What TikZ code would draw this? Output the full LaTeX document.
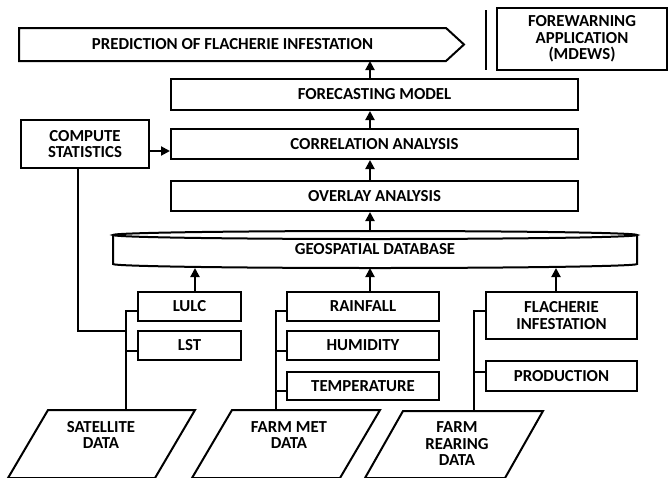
\documentclass[tikz,border=0pt]{standalone}
\usepackage{fontspec}
\setmainfont{Carlito}
\usetikzlibrary{arrows.meta,calc}
\begin{document}
\begin{tikzpicture}[x=1pt,y=-1pt,line width=2pt,
  lbl/.style={inner sep=0pt,align=center,font=\bfseries\fontsize{16.8}{16.5}\selectfont},
  box/.style={lbl,draw,rectangle},
  arr/.style={-{Triangle[width=9pt,length=9pt]},line width=2pt},
  conn/.style={line width=2pt}]
\useasboundingbox (0,0) rectangle (668,477);
% top prediction arrow box
\node[lbl,minimum width=425pt,minimum height=31pt] (pred) at (232.5,44.5) {PREDICTION OF FLACHERIE INFESTATION};
\draw (pred.north west) -- (pred.north east) -- ($(pred.east)+(18,0)$) -- (pred.south east) -- (pred.south west) -- cycle;
\draw[line width=2.2pt] (486,10) -- (486,70);
\node[box,minimum width=170pt,minimum height=62pt] (fw) at (582,39) {FOREWARNING\\APPLICATION\\(MDEWS)};
% main column
\node[box,minimum width=407pt,minimum height=31pt] (fore) at (374.5,94.5) {FORECASTING MODEL};
\node[box,minimum width=407pt,minimum height=30pt] (corr) at (374.5,144) {CORRELATION ANALYSIS};
\node[box,minimum width=407pt,minimum height=30pt] (over) at (374.5,196) {OVERLAY ANALYSIS};
% geospatial database cylinder
\node[lbl,minimum width=524pt,minimum height=38pt] (geo) at (375,249) {\raisebox{-3pt}{GEOSPATIAL DATABASE}};
\draw (375,235) ellipse [x radius=262pt,y radius=4pt];
\draw (113,235) -- (113,264) arc[start angle=180,end angle=360,x radius=262pt,y radius=4pt] -- (637,235);
\node[box,minimum width=128pt,minimum height=48pt] (cs) at (85,144) {COMPUTE\\STATISTICS};
% lower boxes
\node[box,minimum width=103pt,minimum height=29pt] (lulc) at (189.5,306.5) {LULC};
\node[box,minimum width=103pt,minimum height=29pt] (lst) at (189.5,345.5) {LST};
\node[box,minimum width=152pt,minimum height=29pt] (rain) at (363,306.5) {RAINFALL};
\node[box,minimum width=152pt,minimum height=29pt] (hum) at (363,345.5) {HUMIDITY};
\node[box,minimum width=152pt,minimum height=28pt] (temp) at (363,386) {TEMPERATURE};
\node[box,minimum width=151pt,minimum height=47pt] (flach) at (561.5,315.5) {FLACHERIE\\INFESTATION};
\node[box,minimum width=151pt,minimum height=30pt] (prod) at (561.5,376) {PRODUCTION};
% data parallelograms
\draw (48,410) -- (195,410) -- (155,478) -- (8,478) -- cycle;
\node[lbl] (sat) at (101,435) {SATELLITE\\DATA};
\draw (232,410) -- (380,410) -- (340,478) -- (192,478) -- cycle;
\node[lbl] (met) at (289,435) {FARM MET\\DATA};
\draw (403,411) -- (543,411) -- (505,478) -- (365,478) -- cycle;
\node[lbl] (rear) at (457,444) {FARM\\REARING\\DATA};
\coordinate (satTop) at (126,410);
\coordinate (metTop) at (276,410);
\coordinate (rearTop) at (474,411);
% arrows up the column
\draw[arr] (fore.north -| 370,0) -- (pred.south -| 370,0);
\draw[arr] (corr.north -| 370,0) -- (fore.south -| 370,0);
\draw[arr] (over.north -| 370,0) -- (corr.south -| 370,0);
\draw[arr] (370,231) -- (over.south -| 370,0);
\draw[arr] (cs.east |- 0,151) -- (corr.west |- 0,151);
\draw[arr] (lulc.north -| 195,0) -- (195,268);
\draw[arr] (rain.north -| 370,0) -- (370,268);
\draw[arr] (flach.north -| 556,0) -- (556,268);
% trunks
\draw[conn] (satTop) -- (126,311) -- (lulc.west |- 0,311);
\draw[conn] (126,351) -- (lst.west |- 0,351);
\draw[conn] (cs.south -| 78,0) -- (78,331) -- (126,331);
\draw[conn] (metTop) -- (276,311) -- (rain.west |- 0,311);
\draw[conn] (276,351) -- (hum.west |- 0,351);
\draw[conn] (276,391) -- (temp.west |- 0,391);
\draw[conn] (rearTop) -- (474,311) -- (flach.west |- 0,311);
\draw[conn] (474,372) -- (prod.west |- 0,372);
\end{tikzpicture}
\end{document}
